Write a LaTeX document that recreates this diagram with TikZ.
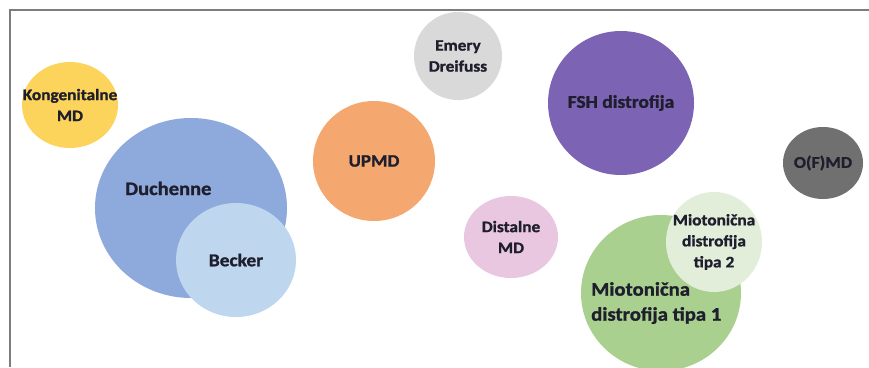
\documentclass[tikz,border=0pt]{standalone}
\usepackage{fontspec}
\setmainfont{Carlito}[FakeStretch=1.08, BoldFeatures={FakeBold=1.2}]
\usetikzlibrary{shapes.geometric}

\definecolor{mdframe}{RGB}{125,125,125}
\definecolor{mdtext}{RGB}{30,30,45}
\definecolor{mdyellow}{RGB}{252,212,92}
\definecolor{mdblue}{RGB}{142,169,219}
\definecolor{mdlightblue}{RGB}{190,214,238}
\definecolor{mdorange}{RGB}{244,168,112}
\definecolor{mdgray}{RGB}{217,217,217}
\definecolor{mdpurple}{RGB}{124,99,180}
\definecolor{mddarkgray}{RGB}{112,112,112}
\definecolor{mdpink}{RGB}{233,199,224}
\definecolor{mdgreen}{RGB}{169,208,142}
\definecolor{mdpalegreen}{RGB}{226,238,218}

\newcommand{\fsz}[1]{\fontsize{#1}{21}\selectfont}

\tikzset{
 bubble/.style={ellipse, inner sep=0pt},
 lbl/.style={inner sep=0pt, align=center, text=mdtext}
}

\begin{document}
\begin{tikzpicture}[x=1pt, y=-1pt]
\useasboundingbox (0,0) rectangle (869,367);
\fill[white] (0,0) rectangle (869,367);
\draw[line width=2pt, mdframe] (869,10) -- (10,10) -- (10,367);

\foreach \name/\x/\y/\rx/\ry/\col/\size/\txt in {
 kong/70/105/48/43/mdyellow/16/{Kongenitalne\\MD},
 duch/191/208/96/90/mdblue/19/{},
 beck/236/260/60/57/mdlightblue/18/{Becker},
 upmd/374/161/61/60/mdorange/17.5/{UPMD},
 emery/458/56/44/44/mdgray/16/{Emery\\Dreifuss},
 fsh/621/103/73/72/mdpurple/18/{FSH distrofija},
 ofmd/823/163/40/36/mddarkgray/16.5/{O(F)MD},
 dist/511/237/47/41/mdpink/16/{Distalne\\MD},
 miotI/661/293/80/78/mdgreen/18.5/{},
 miotII/714/242/48/50/mdpalegreen/16/{Miotonična\\distrofija\\tipa 2}%
} {
 \node[bubble, fill=\col, minimum width=2*\rx, minimum height=2*\ry,
  label={[lbl, font=\bfseries\fsz{\size}]center:{\txt}}] (\name) at (\x,\y) {};
}

\node[lbl, anchor=base west, font=\bfseries\fsz{19}] (duchtext) at (125,195) {Duchenne};
\node[lbl, align=left, anchor=north west, font=\bfseries\fontsize{19.2}{25}\selectfont] (miotItext) at (591,282)
 {Miotonična\\distrofija tipa 1};

\end{tikzpicture}
\end{document}
